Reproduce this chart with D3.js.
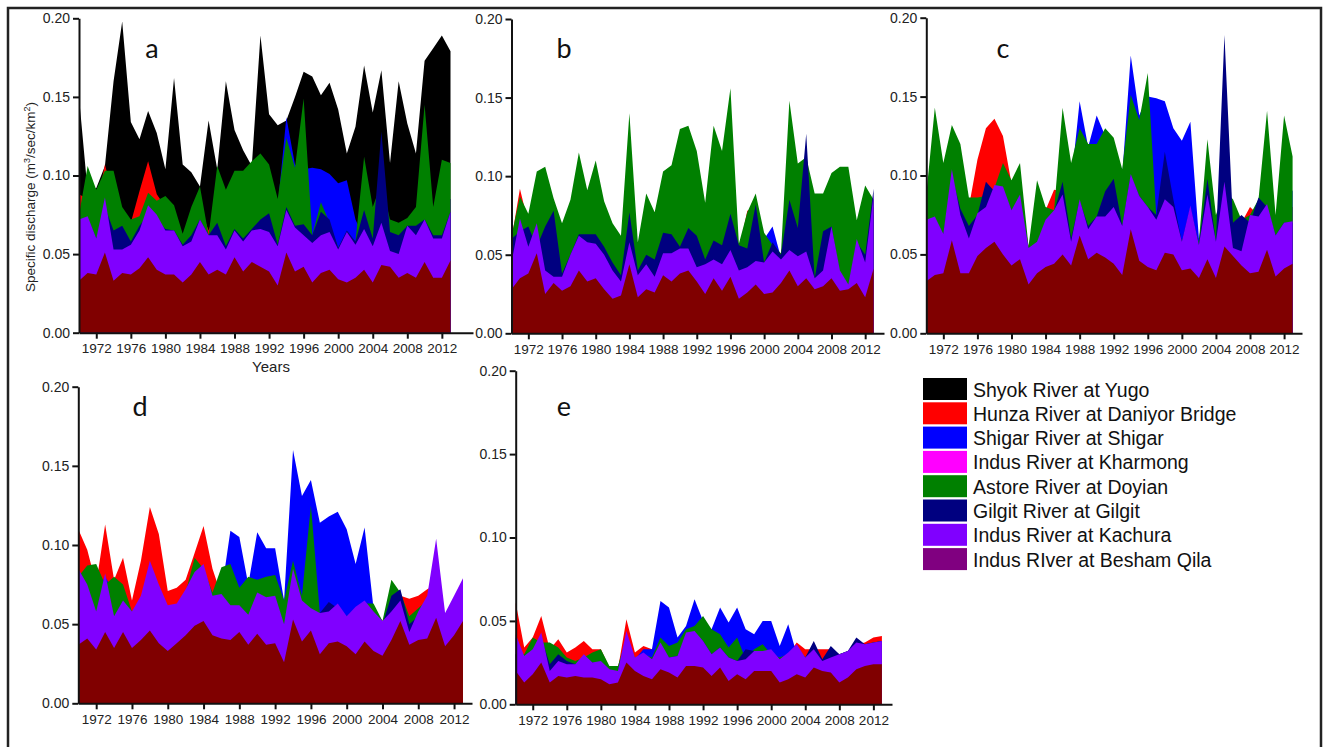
<!DOCTYPE html>
<html>
<head>
<meta charset="utf-8">
<script src="https://cdn.jsdelivr.net/npm/d3@7"></script>
<style>
  body { margin: 0; background: #fff; }
  svg { display: block; font-family: "Liberation Sans", Arial, sans-serif; }
  .axis .domain, .axis line { stroke: #111; stroke-width: 2; }
  .axis text { fill: #222; }
</style>
</head>
<body>
<svg id="chart" width="1324" height="747"></svg>
<script>
const years = [1970,1971,1972,1973,1974,1975,1976,1977,1978,1979,
  1980,1981,1982,1983,1984,1985,1986,1987,1988,1989,
  1990,1991,1992,1993,1994,1995,1996,1997,1998,1999,
  2000,2001,2002,2003,2004,2005,2006,2007,2008,2009,
  2010,2011,2012,2013];
const xTicks = [1972,1976,1980,1984,1988,1992,1996,2000,2004,2008,2012];
const yTicks = [0, 0.05, 0.10, 0.15, 0.20];

const rivers = ["Shyok River at Yugo", "Hunza River at Daniyor Bridge", "Shigar River at Shigar",
  "Indus River at Kharmong", "Astore River at Doyian", "Gilgit River at Gilgit",
  "Indus River at Kachura", "Indus RIver at Besham Qila"];
const areaColors = ["#000000", "#ff0000", "#0000ff", "#ff00ff", "#008000", "#000080", "#8000ff", "#800000"];
const legendColors = ["#000000", "#ff0000", "#0000ff", "#ff00ff", "#008000", "#000080", "#8000ff", "#800080"];

// ---- panel a
const aShyok = [0.150,0.090,0.092,0.106,0.160,0.198,0.134,0.123,0.141,0.127, 0.104,0.162,0.107,0.102,0.093,0.135,0.104,0.160,0.129,0.116, 0.106,0.189,0.139,0.132,0.135,0.150,0.166,0.163,0.151,0.159, 0.142,0.114,0.131,0.170,0.140,0.167,0.108,0.160,0.133,0.114, 0.173,0.181,0.189,0.179];
const aHunza = [0.088,0.085,0.080,0.107,0.085,0.075,0.070,0.090,0.109,0.088, 0.080,0.075,0.060,0.070,0.080,0.065,0.080,0.080,0.085,0.090, 0.090,0.090,0.085,0.075,0.090,0.085,0.090,0.080,0.080,0.080, 0.080,0.080,0.060,0.080,0.070,0.080,0.065,0.062,0.065,0.070, 0.090,0.070,0.085,0.085];
const aShigar = [0.070,0.080,0.075,0.090,0.085,0.075,0.068,0.070,0.080,0.080, 0.075,0.075,0.060,0.075,0.085,0.060,0.090,0.085,0.090,0.095, 0.100,0.105,0.100,0.080,0.137,0.107,0.104,0.105,0.104,0.101, 0.095,0.097,0.072,0.060,0.070,0.080,0.065,0.062,0.065,0.070, 0.090,0.070,0.085,0.085];
const aAstore = [0.075,0.106,0.091,0.103,0.103,0.080,0.072,0.074,0.089,0.084, 0.087,0.081,0.063,0.080,0.093,0.062,0.106,0.091,0.103,0.103, 0.109,0.114,0.107,0.085,0.124,0.105,0.149,0.062,0.083,0.070, 0.054,0.062,0.058,0.112,0.080,0.095,0.072,0.070,0.073,0.080, 0.145,0.080,0.110,0.108];
const aGilgit = [0.070,0.073,0.060,0.080,0.065,0.068,0.058,0.068,0.075,0.072, 0.066,0.065,0.056,0.062,0.072,0.062,0.070,0.055,0.066,0.060, 0.066,0.072,0.076,0.056,0.080,0.068,0.069,0.062,0.077,0.072, 0.054,0.065,0.058,0.078,0.060,0.128,0.064,0.062,0.068,0.068, 0.072,0.062,0.062,0.077];
const aKachura = [0.072,0.074,0.060,0.086,0.053,0.053,0.056,0.065,0.081,0.075, 0.065,0.065,0.055,0.058,0.072,0.062,0.062,0.053,0.065,0.058, 0.065,0.066,0.064,0.055,0.078,0.067,0.062,0.057,0.062,0.064, 0.053,0.064,0.056,0.066,0.055,0.070,0.052,0.050,0.068,0.062, 0.072,0.060,0.060,0.077];
const aBesham = [0.033,0.038,0.037,0.051,0.033,0.038,0.037,0.041,0.048,0.040, 0.037,0.037,0.032,0.037,0.045,0.037,0.040,0.037,0.048,0.039, 0.045,0.042,0.039,0.030,0.051,0.039,0.042,0.032,0.038,0.040, 0.034,0.032,0.035,0.040,0.032,0.043,0.042,0.035,0.038,0.035, 0.045,0.035,0.035,0.046];

// ---- panel b
const bHunza = [0.060,0.092,0.070,0.080,0.085,0.075,0.060,0.075,0.090,0.080, 0.090,0.075,0.060,0.055,0.090,0.050,0.075,0.065,0.085,0.090, 0.100,0.100,0.095,0.075,0.100,0.095,0.100,0.052,0.078,0.080, 0.058,0.052,0.048,0.100,0.090,0.090,0.080,0.080,0.090,0.090, 0.090,0.065,0.085,0.080];
const bShigar = [0.055,0.080,0.070,0.090,0.090,0.075,0.060,0.070,0.090,0.080, 0.090,0.070,0.060,0.055,0.085,0.050,0.070,0.065,0.080,0.085, 0.095,0.095,0.090,0.070,0.095,0.090,0.095,0.050,0.070,0.075, 0.060,0.068,0.048,0.095,0.085,0.085,0.075,0.075,0.085,0.085, 0.085,0.060,0.080,0.075];
const bAstore = [0.062,0.087,0.076,0.103,0.106,0.086,0.070,0.085,0.115,0.091, 0.110,0.084,0.070,0.062,0.140,0.058,0.089,0.077,0.103,0.107, 0.130,0.132,0.116,0.083,0.132,0.116,0.156,0.057,0.077,0.089, 0.064,0.056,0.051,0.148,0.108,0.112,0.089,0.089,0.102,0.106, 0.106,0.072,0.094,0.085];
const bGilgit = [0.060,0.065,0.068,0.055,0.068,0.078,0.038,0.050,0.063,0.063, 0.063,0.055,0.045,0.037,0.077,0.040,0.050,0.047,0.064,0.063, 0.055,0.067,0.062,0.047,0.059,0.056,0.076,0.056,0.054,0.082, 0.045,0.058,0.050,0.085,0.067,0.127,0.035,0.065,0.068,0.038, 0.030,0.058,0.050,0.092];
const bKachura = [0.045,0.073,0.055,0.070,0.040,0.036,0.036,0.050,0.062,0.058, 0.057,0.050,0.040,0.033,0.058,0.037,0.044,0.036,0.051,0.051, 0.054,0.054,0.042,0.044,0.047,0.044,0.053,0.040,0.042,0.046, 0.045,0.052,0.047,0.053,0.049,0.052,0.035,0.040,0.068,0.040, 0.031,0.060,0.045,0.088];
const bBesham = [0.028,0.035,0.038,0.051,0.025,0.032,0.027,0.030,0.040,0.033, 0.035,0.028,0.022,0.024,0.044,0.023,0.028,0.026,0.037,0.033, 0.038,0.040,0.033,0.025,0.035,0.027,0.036,0.022,0.026,0.031, 0.025,0.026,0.032,0.040,0.030,0.035,0.028,0.030,0.035,0.027, 0.028,0.032,0.023,0.041];

// ---- panel c
const cHunza = [0.088,0.085,0.080,0.090,0.085,0.080,0.110,0.130,0.136,0.125, 0.095,0.090,0.055,0.080,0.078,0.091,0.090,0.080,0.090,0.090, 0.090,0.090,0.090,0.085,0.090,0.090,0.090,0.070,0.080,0.075, 0.058,0.075,0.055,0.080,0.070,0.080,0.070,0.070,0.080,0.075, 0.080,0.070,0.080,0.080];
const cShigar = [0.080,0.090,0.085,0.090,0.090,0.080,0.080,0.080,0.085,0.090, 0.090,0.090,0.050,0.085,0.075,0.075,0.110,0.095,0.147,0.118, 0.138,0.125,0.120,0.100,0.176,0.138,0.150,0.149,0.147,0.130, 0.122,0.134,0.060,0.090,0.070,0.085,0.080,0.070,0.070,0.080, 0.100,0.070,0.100,0.090];
const cAstore = [0.088,0.143,0.108,0.132,0.120,0.086,0.086,0.087,0.092,0.108, 0.097,0.108,0.055,0.097,0.080,0.078,0.143,0.108,0.130,0.120, 0.120,0.130,0.124,0.104,0.151,0.135,0.165,0.074,0.080,0.078, 0.058,0.075,0.058,0.123,0.075,0.090,0.085,0.072,0.075,0.085, 0.141,0.075,0.138,0.112];
const cGilgit = [0.070,0.073,0.062,0.100,0.079,0.068,0.075,0.096,0.090,0.090, 0.078,0.085,0.053,0.057,0.070,0.077,0.096,0.060,0.084,0.068, 0.074,0.090,0.098,0.068,0.100,0.087,0.080,0.075,0.115,0.085, 0.058,0.080,0.056,0.098,0.058,0.189,0.070,0.075,0.070,0.086, 0.080,0.062,0.070,0.070];
const cKachura = [0.072,0.074,0.063,0.104,0.075,0.060,0.076,0.080,0.094,0.093, 0.078,0.088,0.054,0.058,0.072,0.078,0.088,0.058,0.085,0.066, 0.074,0.074,0.080,0.068,0.101,0.087,0.080,0.072,0.085,0.080, 0.058,0.081,0.056,0.088,0.058,0.096,0.054,0.052,0.075,0.074, 0.082,0.062,0.070,0.071];
const cBesham = [0.033,0.037,0.038,0.059,0.038,0.038,0.049,0.054,0.058,0.050, 0.043,0.047,0.031,0.038,0.042,0.044,0.050,0.043,0.062,0.047, 0.051,0.048,0.044,0.037,0.066,0.046,0.042,0.040,0.051,0.050, 0.040,0.041,0.035,0.047,0.035,0.055,0.049,0.043,0.038,0.039, 0.053,0.036,0.041,0.044];

// ---- panel d
const dHunza = [0.110,0.097,0.075,0.113,0.078,0.092,0.065,0.090,0.124,0.107, 0.071,0.073,0.078,0.095,0.112,0.085,0.068,0.080,0.070,0.075, 0.070,0.075,0.075,0.060,0.085,0.070,0.090,0.055,0.060,0.060, 0.055,0.060,0.060,0.060,0.052,0.060,0.068,0.066,0.068,0.072, 0.075,0.055,0.065,0.075];
const dShigar = [0.080,0.080,0.070,0.080,0.070,0.070,0.055,0.060,0.080,0.070, 0.060,0.060,0.065,0.085,0.080,0.065,0.070,0.109,0.105,0.075, 0.108,0.098,0.098,0.065,0.160,0.131,0.141,0.114,0.118,0.121, 0.110,0.088,0.111,0.060,0.050,0.060,0.060,0.055,0.058,0.065, 0.070,0.052,0.060,0.070];
const dAstore = [0.080,0.087,0.088,0.075,0.080,0.075,0.058,0.065,0.085,0.070, 0.060,0.060,0.070,0.092,0.085,0.070,0.086,0.088,0.073,0.080, 0.078,0.080,0.081,0.065,0.090,0.068,0.125,0.057,0.056,0.060, 0.055,0.060,0.063,0.063,0.052,0.078,0.070,0.055,0.060,0.065, 0.070,0.055,0.060,0.070];
const dGilgit = [0.075,0.070,0.055,0.075,0.050,0.060,0.055,0.062,0.080,0.070, 0.058,0.060,0.065,0.075,0.080,0.062,0.065,0.058,0.058,0.052, 0.065,0.063,0.064,0.048,0.080,0.060,0.056,0.057,0.064,0.060, 0.052,0.057,0.060,0.055,0.050,0.068,0.072,0.050,0.055,0.062, 0.070,0.050,0.060,0.070];
const dKachura = [0.085,0.075,0.058,0.082,0.055,0.065,0.058,0.068,0.090,0.075, 0.062,0.063,0.072,0.083,0.088,0.068,0.069,0.062,0.062,0.056, 0.070,0.067,0.068,0.050,0.085,0.065,0.060,0.057,0.058,0.063, 0.055,0.061,0.065,0.058,0.052,0.058,0.065,0.045,0.058,0.068, 0.104,0.057,0.068,0.079];
const dBesham = [0.037,0.041,0.034,0.045,0.035,0.045,0.035,0.040,0.046,0.038, 0.033,0.038,0.043,0.049,0.052,0.043,0.041,0.040,0.045,0.037, 0.044,0.037,0.038,0.026,0.053,0.039,0.046,0.031,0.038,0.039, 0.036,0.031,0.039,0.033,0.030,0.040,0.052,0.037,0.040,0.041, 0.054,0.036,0.043,0.052];

// ---- panel e
const eHunza = [0.061,0.034,0.040,0.053,0.033,0.039,0.031,0.034,0.038,0.033, 0.033,0.022,0.021,0.051,0.031,0.035,0.033,0.035,0.035,0.035, 0.040,0.040,0.040,0.040,0.035,0.035,0.035,0.030,0.033,0.033, 0.033,0.030,0.030,0.037,0.033,0.033,0.033,0.033,0.030,0.031, 0.036,0.037,0.040,0.041];
const eShigar = [0.040,0.028,0.030,0.035,0.025,0.030,0.026,0.025,0.028,0.028, 0.028,0.020,0.020,0.040,0.027,0.033,0.033,0.062,0.058,0.040, 0.047,0.063,0.050,0.045,0.058,0.049,0.058,0.045,0.042,0.050, 0.050,0.035,0.048,0.030,0.028,0.030,0.026,0.028,0.028,0.030, 0.035,0.035,0.036,0.037];
const eAstore = [0.030,0.030,0.040,0.037,0.037,0.034,0.028,0.026,0.028,0.031, 0.033,0.023,0.023,0.040,0.028,0.030,0.028,0.040,0.035,0.037, 0.045,0.047,0.053,0.045,0.042,0.034,0.040,0.027,0.033,0.036, 0.030,0.028,0.030,0.035,0.028,0.034,0.027,0.028,0.030,0.032, 0.036,0.036,0.037,0.038];
const eGilgit = [0.030,0.028,0.030,0.040,0.024,0.030,0.026,0.024,0.028,0.025, 0.025,0.020,0.020,0.040,0.027,0.030,0.027,0.035,0.028,0.029, 0.040,0.042,0.038,0.030,0.034,0.028,0.026,0.033,0.032,0.032, 0.032,0.027,0.030,0.034,0.028,0.038,0.027,0.035,0.030,0.032, 0.040,0.036,0.037,0.038];
const eKachura = [0.042,0.029,0.033,0.043,0.020,0.026,0.024,0.024,0.030,0.025, 0.026,0.021,0.020,0.044,0.028,0.031,0.027,0.037,0.028,0.029, 0.043,0.044,0.038,0.030,0.034,0.028,0.026,0.027,0.032,0.032, 0.033,0.027,0.031,0.036,0.028,0.033,0.026,0.028,0.030,0.032, 0.037,0.036,0.037,0.038];
const eBesham = [0.020,0.013,0.018,0.025,0.013,0.017,0.016,0.017,0.016,0.016, 0.015,0.012,0.013,0.025,0.020,0.017,0.015,0.021,0.019,0.016, 0.023,0.023,0.022,0.017,0.022,0.014,0.018,0.015,0.020,0.020, 0.020,0.013,0.015,0.018,0.016,0.022,0.020,0.019,0.013,0.016, 0.021,0.023,0.024,0.024];

// series listed back to front: [river index, values]
const panels = [
  {label: "a", x0: 79, x1: 450.5, axisEnd: 473, yBase: 332.7, yTop: 18.3, lx: 152, ly: 58,
   series: [[0, aShyok], [1, aHunza], [2, aShigar], [4, aAstore], [5, aGilgit], [6, aKachura], [7, aBesham]]},
  {label: "b", x0: 511.5, x1: 873.6, axisEnd: 884, yBase: 333.3, yTop: 19, lx: 564, ly: 58,
   series: [[1, bHunza], [2, bShigar], [4, bAstore], [5, bGilgit], [6, bKachura], [7, bBesham]]},
  {label: "c", x0: 926.3, x1: 1292.6, axisEnd: 1302, yBase: 333.3, yTop: 17.7, lx: 1003, ly: 58,
   series: [[1, cHunza], [2, cShigar], [4, cAstore], [5, cGilgit], [6, cKachura], [7, cBesham]]},
  {label: "d", x0: 78.3, x1: 463, axisEnd: 472, yBase: 703.3, yTop: 386.7, lx: 140, ly: 416,
   series: [[1, dHunza], [2, dShigar], [4, dAstore], [5, dGilgit], [6, dKachura], [7, dBesham]]},
  {label: "e", x0: 515.7, x1: 881.9, axisEnd: 892, yBase: 704.3, yTop: 370.7, lx: 564, ly: 416,
   series: [[1, eHunza], [2, eShigar], [4, eAstore], [5, eGilgit], [6, eKachura], [7, eBesham]]}
];

const svg = d3.select("#chart");

// outer frame (open at the bottom)
svg.append("path")
    .attr("d", "M8,747 V8 H1321 V747")
    .attr("fill", "none")
    .attr("stroke", "#222")
    .attr("stroke-width", 2.5);

panels.forEach(function(p) {
  let x = d3.scaleLinear().domain([1970, 2013]).range([p.x0, p.x1]);
  let y = d3.scaleLinear().domain([0, 0.2]).range([p.yBase, p.yTop]);
  let g = svg.append("g");

  let area = d3.area()
      .x(function(d, i) { return x(years[i]); })
      .y0(y(0))
      .y1(function(d) { return y(d); });

  g.selectAll("path.layer")
    .data(p.series)
    .enter().append("path")
      .attr("class", "layer")
      .attr("d", function(s) { return area(s[1]); })
      .attr("fill", function(s) { return areaColors[s[0]]; });

  // x axis runs a bit past the last year
  let xAxisScale = x.copy().domain([1970, x.invert(p.axisEnd)]).range([p.x0, p.axisEnd]);
  g.append("g")
      .attr("class", "axis")
      .attr("transform", "translate(0," + p.yBase + ")")
      .call(d3.axisBottom(xAxisScale).tickValues(xTicks).tickFormat(d3.format("d"))
        .tickSize(6).tickSizeOuter(0).tickPadding(5))
      .call(function(a) { a.selectAll("text").attr("font-size", 13.5); });

  g.append("g")
      .attr("class", "axis")
      .attr("transform", "translate(" + p.x0 + ",0)")
      .call(d3.axisLeft(y).tickValues(yTicks).tickFormat(d3.format(".2f"))
        .tickSize(6).tickSizeOuter(0).tickPadding(3))
      .call(function(a) { a.selectAll("text").attr("font-size", 14); });

  g.append("text")
      .attr("x", p.lx)
      .attr("y", p.ly)
      .attr("text-anchor", "middle")
      .attr("font-family", "Lato, 'Open Sans', sans-serif")
      .attr("font-size", 27)
      .attr("fill", "#111")
      .text(p.label);
});

// titles for panel a
svg.append("text")
    .attr("x", 271)
    .attr("y", 372)
    .attr("text-anchor", "middle")
    .attr("font-size", 15)
    .attr("fill", "#222")
    .text("Years");

let yTitle = svg.append("text")
    .attr("transform", "translate(35,197) rotate(-90)")
    .attr("text-anchor", "middle")
    .attr("font-size", 13.5)
    .attr("fill", "#222");
yTitle.append("tspan").text("Specific discharge (m");
yTitle.append("tspan").attr("font-size", 9).attr("dy", -5).text("3");
yTitle.append("tspan").attr("dy", 5).text("/sec/km");
yTitle.append("tspan").attr("font-size", 9).attr("dy", -5).text("2");
yTitle.append("tspan").attr("dy", 5).text(")");

// legend
let legend = svg.append("g").selectAll("g")
    .data(rivers)
    .enter().append("g")
      .attr("transform", function(d, i) { return "translate(923," + (378 + i * 24.3) + ")"; });

legend.append("rect")
    .attr("width", 44)
    .attr("height", 22)
    .attr("fill", function(d, i) { return legendColors[i]; });

legend.append("text")
    .attr("x", 50)
    .attr("y", 18.5)
    .attr("font-size", 19.5)
    .attr("fill", "#111")
    .text(function(d) { return d; });
</script>
</body>
</html>
